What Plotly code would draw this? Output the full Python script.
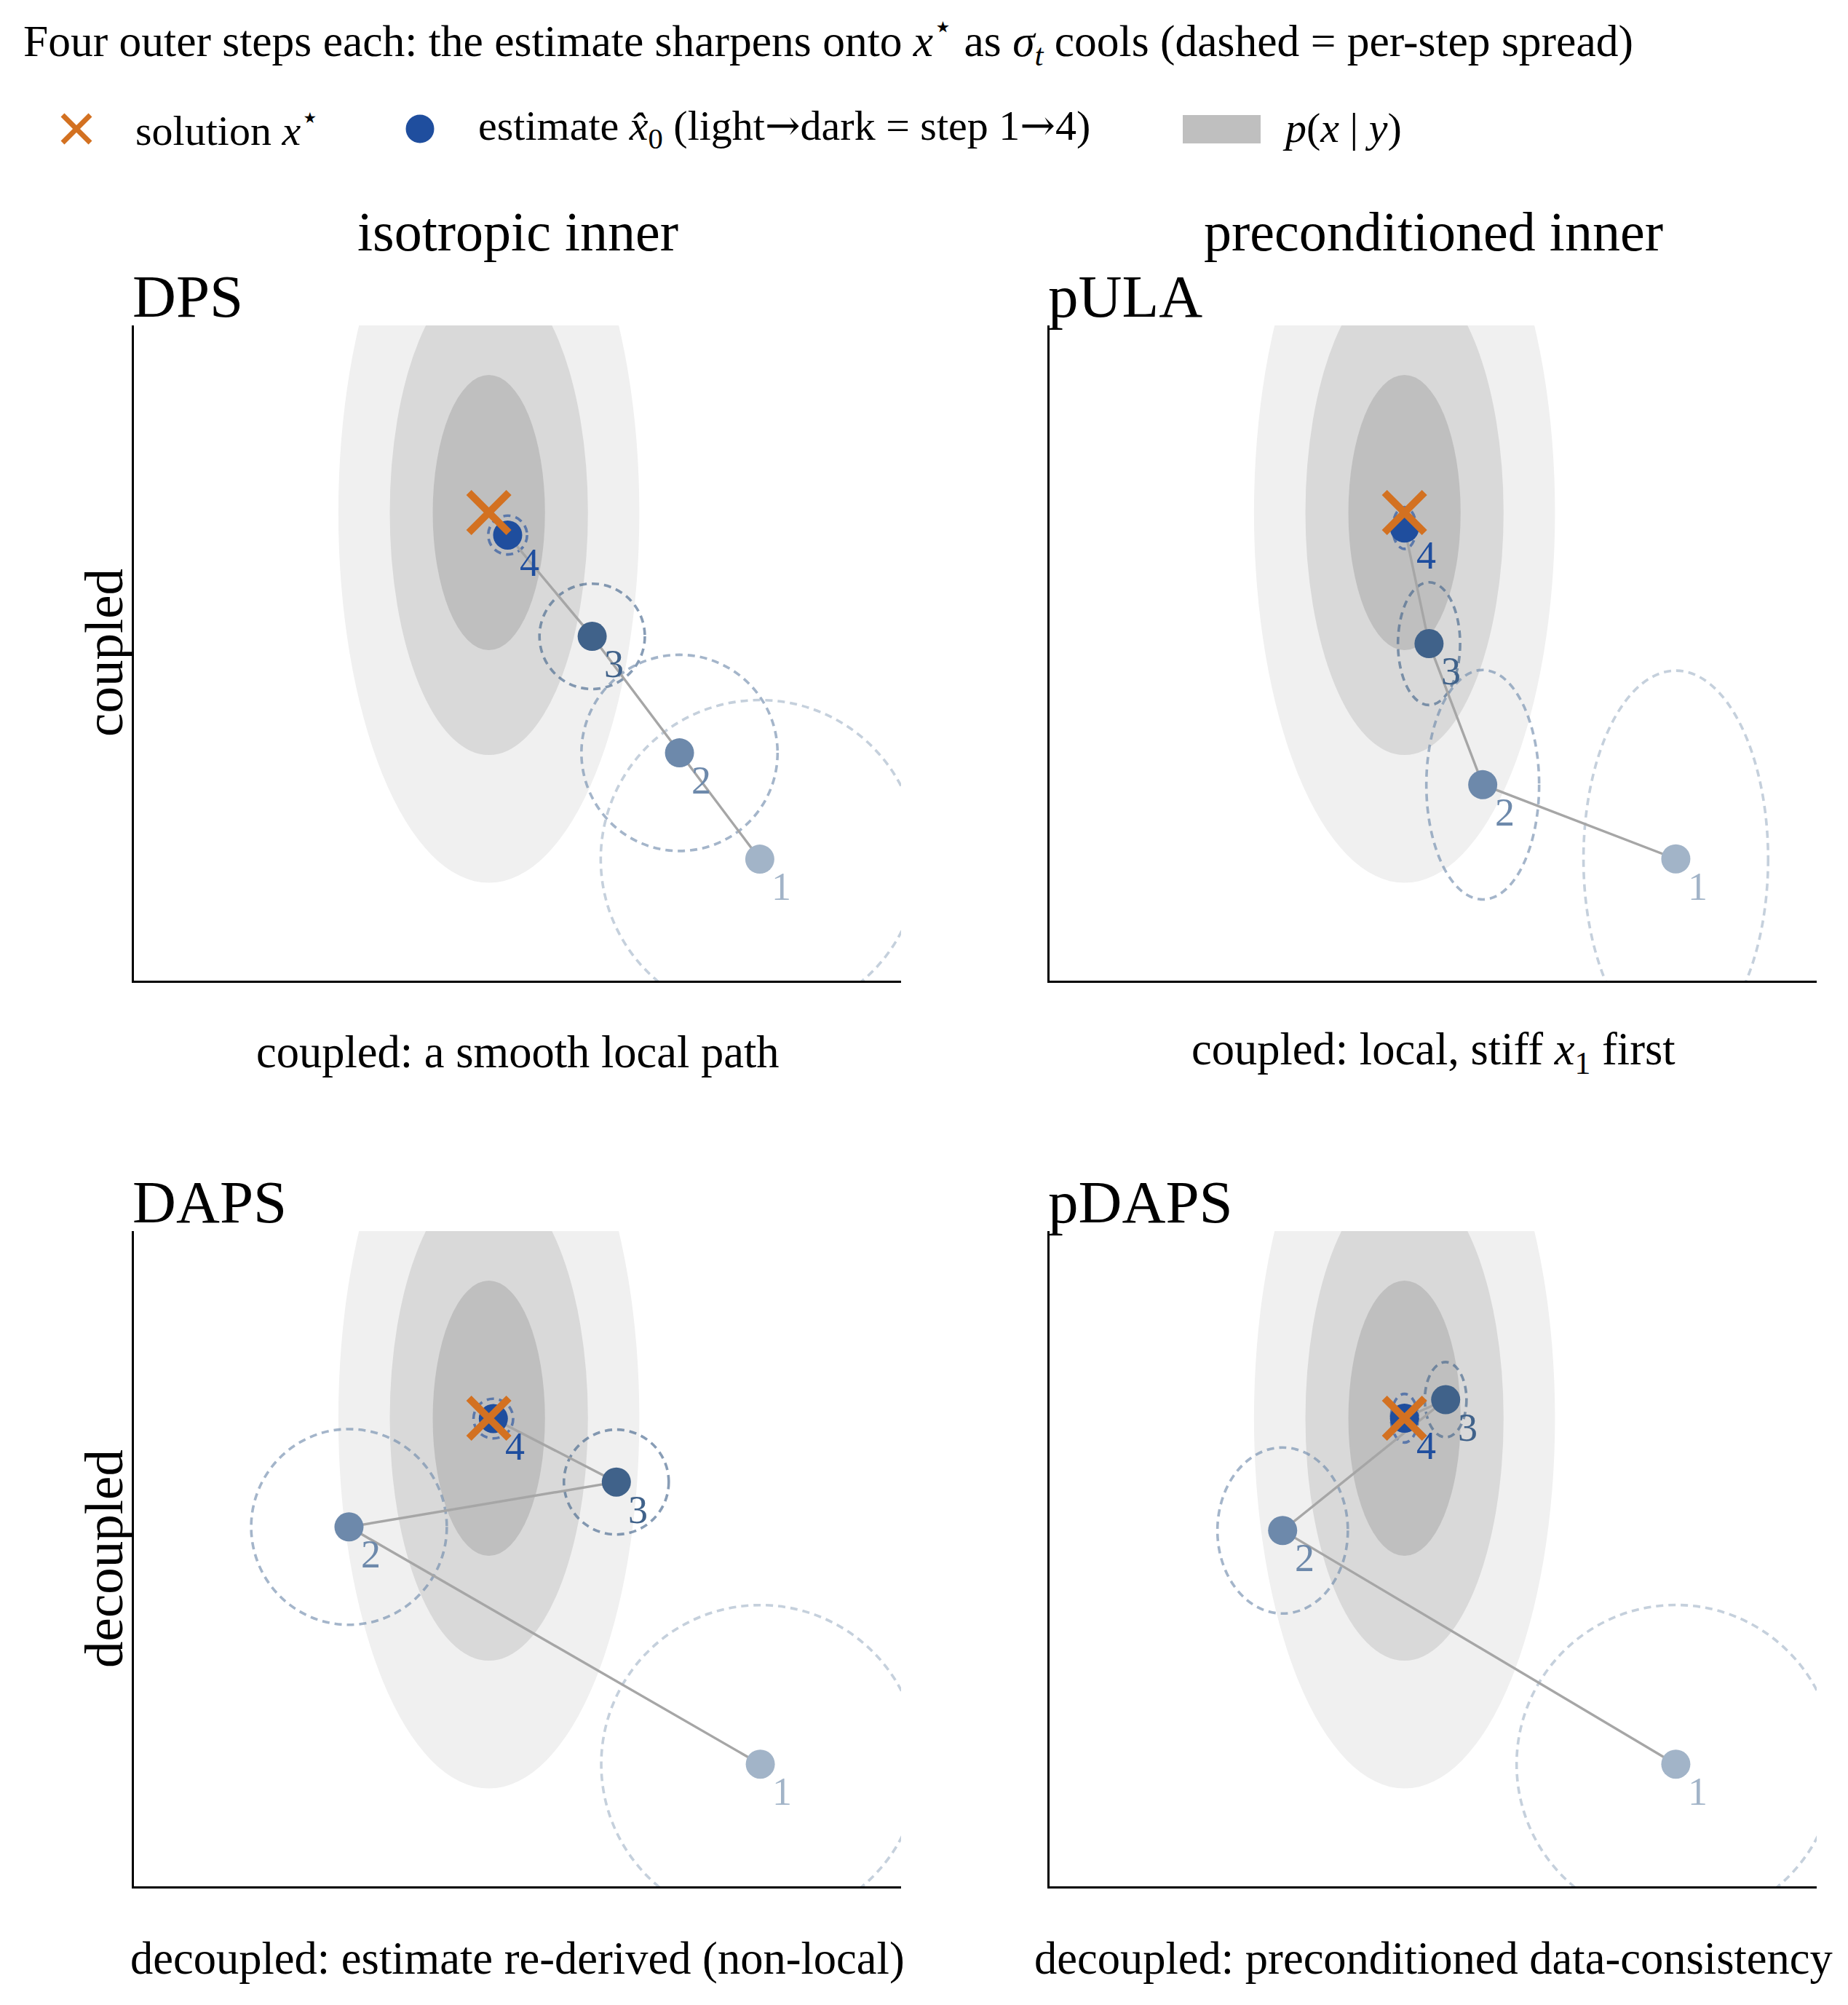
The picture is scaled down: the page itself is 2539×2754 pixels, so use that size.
import plotly.graph_objects as go

W, H = 2539, 2754
FONT = "Liberation Serif"

# ---------------- data ----------------
x_star = [0.0]
y_star = [0.0]

# posterior p(x|y) filled contours (outer -> inner), half-axes
post_rx = [1.177, 0.775, 0.439]
post_ry = [2.895, 1.896, 1.076]
post_fill = ["#f0f0f0", "#d9d9d9", "#bfbfbf"]

steps = ["1", "2", "3", "4"]
step_colors = ["#a2b4c8", "#6d89ab", "#40628a", "#1f4e9e"]

dps_x = [2.119, 1.491, 0.808, 0.147]
dps_y = [-2.710, -1.879, -0.968, -0.176]
dps_rx = [1.244, 0.767, 0.412, 0.152]
dps_ry = [1.244, 0.767, 0.412, 0.152]

pula_x = [2.122, 0.612, 0.192, 0.000]
pula_y = [-2.708, -2.128, -1.025, -0.121]
pula_rx = [0.722, 0.441, 0.243, 0.092]
pula_ry = [1.472, 0.897, 0.480, 0.163]

daps_x = [2.123, -1.094, 0.997, 0.035]
daps_y = [-2.705, -0.850, -0.499, -0.003]
daps_rx = [1.244, 0.765, 0.410, 0.155]
daps_ry = [1.244, 0.765, 0.410, 0.155]

pdaps_x = [2.122, -0.953, 0.322, 0.000]
pdaps_y = [-2.705, -0.878, 0.145, 0.000]
pdaps_rx = [1.245, 0.510, 0.163, 0.105]
pdaps_ry = [1.245, 0.649, 0.294, 0.190]

panel_names = ["DPS", "pULA", "DAPS", "pDAPS"]
col_titles = ["isotropic inner", "preconditioned inner"]
row_titles = ["coupled", "decoupled"]
captions = ["coupled: a smooth local path",
            "coupled: local, stiff <i>x</i><sub>1</sub> first",
            "decoupled: estimate re-derived (non-local)",
            "decoupled: preconditioned data-consistency"]
ARROW = '<span style="font-family:DejaVu Serif">→</span>'
title_text = ("Four outer steps each: the estimate sharpens onto <i>x</i><sup>⋆</sup> as "
              "<i>σ</i><sub><i>t</i></sub> cools (dashed = per-step spread)")
legend_labels = ["solution <i>x</i><sup>⋆</sup>",
                 "estimate <i>x̂</i><sub>0</sub> (light" + ARROW + "dark = step 1" + ARROW + "4)",
                 "<i>p</i>(<i>x</i> | <i>y</i>)"]

X_RANGE = [-2.776, 3.224]
Y_RANGE = [-3.660, 1.463]

ORANGE = "#d37121"
LINE_GRAY = "#a6a6a6"

# ---------------- layout geometry (pixels) ----------------
col_px = [(184, 1238), (1442, 2496)]
row_px = [(447, 1347), (1691, 2591)]

def px2x(p):
    return p / W

def px2y(p):
    return 1 - p / H

fig = go.Figure()
shapes = []
annotations = []

panel_data = [
    (dps_x, dps_y, dps_rx, dps_ry),
    (pula_x, pula_y, pula_rx, pula_ry),
    (daps_x, daps_y, daps_rx, daps_ry),
    (pdaps_x, pdaps_y, pdaps_rx, pdaps_ry),
]

layout_axes = {}
for i, (px_, py_, prx, pry) in enumerate(panel_data):
    r, c = divmod(i, 2)
    k = i + 1
    xa = "x" if k == 1 else f"x{k}"
    ya = "y" if k == 1 else f"y{k}"
    axcommon = dict(showgrid=False, zeroline=False, showticklabels=False, ticks="",
                    showline=True, linecolor="black", linewidth=2.6, fixedrange=True)
    layout_axes["xaxis" if k == 1 else f"xaxis{k}"] = dict(
        domain=[px2x(col_px[c][0]), px2x(col_px[c][1])], range=X_RANGE,
        anchor=ya, **axcommon)
    layout_axes["yaxis" if k == 1 else f"yaxis{k}"] = dict(
        domain=[px2y(row_px[r][1]), px2y(row_px[r][0])], range=Y_RANGE,
        anchor=xa, **axcommon)

    # posterior contours
    for rx, ry, fc in zip(post_rx, post_ry, post_fill):
        shapes.append(dict(type="circle", xref=xa, yref=ya, layer="below",
                           x0=x_star[0] - rx, x1=x_star[0] + rx,
                           y0=y_star[0] - ry, y1=y_star[0] + ry,
                           fillcolor=fc, line=dict(width=0)))
    # per-step spread (dashed)
    for xx, yy, rx, ry, col in zip(px_, py_, prx, pry, step_colors):
        shapes.append(dict(type="circle", xref=xa, yref=ya, layer="below",
                           x0=xx - rx, x1=xx + rx, y0=yy - ry, y1=yy + ry,
                           fillcolor="rgba(0,0,0,0)", opacity=0.62,
                           line=dict(color=col, width=3.6, dash="10px,7px")))
    # path line
    fig.add_trace(go.Scatter(x=px_, y=py_, mode="lines", xaxis=xa, yaxis=ya,
                             line=dict(color=LINE_GRAY, width=3.4),
                             hoverinfo="skip", showlegend=False))
    # estimates
    fig.add_trace(go.Scatter(x=px_, y=py_, mode="markers", xaxis=xa, yaxis=ya,
                             marker=dict(size=40, color=step_colors, line=dict(width=0)),
                             hoverinfo="skip", showlegend=False))
    # solution
    fig.add_trace(go.Scatter(x=x_star, y=y_star, mode="markers", xaxis=xa, yaxis=ya,
                             marker=dict(symbol="x-thin", size=55,
                                         line=dict(color=ORANGE, width=10)),
                             hoverinfo="skip", showlegend=False))
    # step labels
    for xx, yy, s, col in zip(px_, py_, steps, step_colors):
        annotations.append(dict(x=xx, y=yy, xref=xa, yref=ya, text=s, showarrow=False,
                                xshift=30, yshift=-38, xanchor="center", yanchor="middle",
                                font=dict(family=FONT, size=54, color=col)))
    # panel title
    annotations.append(dict(x=px2x(col_px[c][0] - 4), y=px2y(row_px[r][0] - 40),
                            xref="paper", yref="paper", text=panel_names[i],
                            showarrow=False, xanchor="left", yanchor="middle",
                            font=dict(family=FONT, size=83, color="black")))
    # caption
    cap_y = [1445, 2690][r]
    annotations.append(dict(x=px2x((col_px[c][0] + col_px[c][1]) / 2), y=px2y(cap_y),
                            xref="paper", yref="paper", text=captions[i],
                            showarrow=False, xanchor="center", yanchor="middle",
                            font=dict(family=FONT, size=62.5, color="black")))

# column titles
for c in range(2):
    annotations.append(dict(x=px2x((col_px[c][0] + col_px[c][1]) / 2), y=px2y(318),
                            xref="paper", yref="paper", text=col_titles[c],
                            showarrow=False, xanchor="center", yanchor="middle",
                            font=dict(family=FONT, size=76, color="black")))
# row titles
for r in range(2):
    annotations.append(dict(x=px2x(143), y=px2y((row_px[r][0] + row_px[r][1]) / 2),
                            xref="paper", yref="paper", text=row_titles[r],
                            showarrow=False, xanchor="center", yanchor="middle",
                            textangle=-90,
                            font=dict(family=FONT, size=73, color="black")))

# title
annotations.append(dict(x=px2x(30), y=px2y(56), xref="paper", yref="paper",
                        text=title_text, showarrow=False, xanchor="left", yanchor="middle",
                        font=dict(family=FONT, size=61.5, color="black")))

# legend (overlay axis in pixel units)
layout_axes["xaxis5"] = dict(domain=[0, 1], range=[0, W], visible=False, fixedrange=True,
                             anchor="y5")
layout_axes["yaxis5"] = dict(domain=[0, 1], range=[H, 0], visible=False, fixedrange=True,
                             anchor="x5")
fig.add_trace(go.Scatter(x=[105], y=[177], mode="markers", xaxis="x5", yaxis="y5",
                         marker=dict(symbol="x-thin", size=38,
                                     line=dict(color=ORANGE, width=7)),
                         hoverinfo="skip", showlegend=False))
fig.add_trace(go.Scatter(x=[577], y=[177], mode="markers", xaxis="x5", yaxis="y5",
                         marker=dict(size=39, color=step_colors[3], line=dict(width=0)),
                         hoverinfo="skip", showlegend=False))
shapes.append(dict(type="rect", xref="x5", yref="y5", x0=1625, x1=1732, y0=158, y1=197,
                   fillcolor=post_fill[2], line=dict(width=0), layer="above"))
for txt, lx in zip(legend_labels, [184, 655, 1760]):
    annotations.append(dict(x=px2x(lx), y=px2y(176), xref="paper", yref="paper",
                            text=txt, showarrow=False, xanchor="left", yanchor="middle",
                            font=dict(family=FONT, size=58, color="black")))

fig.update_layout(width=W, height=H, margin=dict(l=0, r=0, t=0, b=0),
                  paper_bgcolor="white", plot_bgcolor="rgba(0,0,0,0)",
                  showlegend=False, shapes=shapes, annotations=annotations,
                  **layout_axes)

fig.write_html("out.html")
